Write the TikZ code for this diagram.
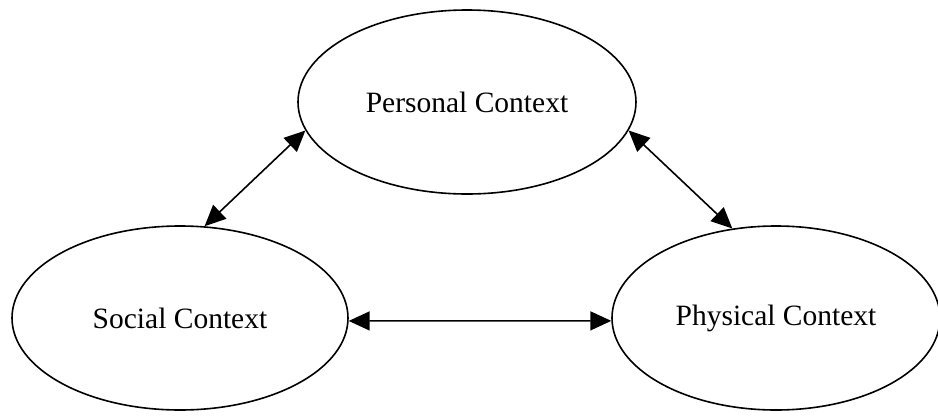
\documentclass[tikz,border=0pt]{standalone}
\usepackage{fontspec}
\setmainfont{Liberation Serif}
\usetikzlibrary{shapes.geometric,arrows.meta}
\begin{document}
\begin{tikzpicture}[x=1pt,y=-1pt,
  ctx/.style={ellipse,draw,line width=1.6pt,inner sep=0pt,font=\fontsize{29.5}{34}\selectfont},
  link/.style={line width=1.6pt,{Triangle[length=21pt,width=19pt]}-{Triangle[length=21pt,width=19pt]}}]
\useasboundingbox (0,0) rectangle (938,416);
\node[ctx,minimum width=338pt,minimum height=184pt] (per) at (467,102) {Personal Context};
\node[ctx,minimum width=336pt,minimum height=184pt] (soc) at (180,318) {Social Context};
\node[ctx,minimum width=328pt,minimum height=184pt] (phy) at (776,318) {Physical Context};
\draw[link] (soc.75) -- (per.190);
\draw[link] (per.350) -- (phy.116);
\draw[link] (soc.-1.7) -- (phy.181.7);
\end{tikzpicture}
\end{document}
